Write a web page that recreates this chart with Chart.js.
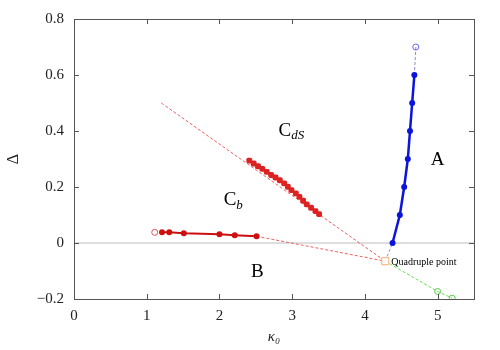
<!DOCTYPE html>
<html>
<head>
<meta charset="utf-8">
<script src="https://cdn.jsdelivr.net/npm/chart.js@4.4.0/dist/chart.umd.min.js"></script>
<style>
  html, body { margin: 0; padding: 0; background: #fff; }
  #wrap { width: 500px; height: 350px; }
</style>
</head>
<body>
<div id="wrap"><canvas id="grafico"></canvas></div>
<script>
// --- Dados ---
const xTicks = [0, 1, 2, 3, 4, 5];
const yTicks = [-0.2, 0, 0.2, 0.4, 0.6, 0.8];

// fase A (azul)
const azulX = [4.38, 4.48, 4.54, 4.59, 4.62, 4.65, 4.68];
const azulY = [0, 0.1, 0.2, 0.3, 0.4, 0.5, 0.6];
const azulExtX = [4.68, 4.70];
const azulExtY = [0.6, 0.70];

// C_b (vermelho)
const vermX = [1.21, 1.31, 1.51, 2.0, 2.21, 2.51];
const vermY = [0.038, 0.038, 0.035, 0.031, 0.028, 0.024];
const vermAbertoX = [1.11];
const vermAbertoY = [0.038];

// C_dS (pontos vermelhos grossos)
const dsX = [2.41, 2.47, 2.53, 2.59, 2.65, 2.71, 2.77, 2.83, 2.89, 2.94, 2.99, 3.05, 3.10, 3.15, 3.20, 3.26, 3.32, 3.37];
const dsY = [0.294, 0.284, 0.274, 0.265, 0.254, 0.243, 0.234, 0.224, 0.213, 0.201, 0.189, 0.177, 0.165, 0.151, 0.138, 0.126, 0.114, 0.103];

// ponto quádruplo
const quadX = [4.28];
const quadY = [-0.065];

// linhas tracejadas
const diagX = [1.2, 4.28];
const diagY = [0.5, -0.065];
const cbExtX = [2.51, 4.28];
const cbExtY = [0.024, -0.065];
const verdeX = [4.28, 5.0, 5.2];
const verdeY = [-0.065, -0.173, -0.197];
const azulBaixoX = [4.28, 4.38];
const azulBaixoY = [-0.065, 0];

const zeroX = [0, 5.5];
const zeroY = [0, 0];

const rotulos = [
    { txt: 'C', sub: 'dS', x: 2.99, y: 0.40 },
    { txt: 'C', sub: 'b', x: 2.19, y: 0.153 },
    { txt: 'A', sub: '', x: 5.0, y: 0.295 },
    { txt: 'B', sub: '', x: 2.52, y: -0.103 }
];

function pares(xs, ys) {
    return xs.map((x, i) => ({ x: x, y: ys[i] }));
}

const serif = '"Liberation Serif", "DejaVu Serif", serif';

// --- Plugin: moldura, ticks para dentro, rótulos ---
const molduraPlugin = {
    id: 'moldura',
    afterDraw(chart) {
        const ctx = chart.ctx;
        const a = chart.chartArea;
        const sx = chart.scales.x, sy = chart.scales.y;
        ctx.save();
        ctx.strokeStyle = '#555';
        ctx.lineWidth = 1;
        ctx.strokeRect(a.left + 0.5, a.top + 0.5, a.right - a.left, a.bottom - a.top);
        ctx.beginPath();
        xTicks.forEach(v => {
            const p = Math.round(sx.getPixelForValue(v)) + 0.5;
            ctx.moveTo(p, a.bottom); ctx.lineTo(p, a.bottom - 5);
            ctx.moveTo(p, a.top); ctx.lineTo(p, a.top + 5);
        });
        yTicks.forEach(v => {
            const p = Math.round(sy.getPixelForValue(v)) + 0.5;
            ctx.moveTo(a.left, p); ctx.lineTo(a.left + 5, p);
            ctx.moveTo(a.right, p); ctx.lineTo(a.right - 5, p);
        });
        ctx.stroke();

        // rótulos das fases
        ctx.fillStyle = '#000';
        ctx.textBaseline = 'middle';
        rotulos.forEach(r => {
            const px = sx.getPixelForValue(r.x);
            const py = sy.getPixelForValue(r.y);
            ctx.font = '19px ' + serif;
            const w1 = ctx.measureText(r.txt).width;
            ctx.font = 'italic 13px ' + serif;
            const w2 = r.sub ? ctx.measureText(r.sub).width : 0;
            const x0 = px - (w1 + w2) / 2;
            ctx.font = '19px ' + serif;
            ctx.textAlign = 'left';
            ctx.fillText(r.txt, x0, py);
            if (r.sub) {
                ctx.font = 'italic 13px ' + serif;
                ctx.fillText(r.sub, x0 + w1, py + 5);
            }
        });
        ctx.font = '10px ' + serif;
        ctx.textAlign = 'left';
        ctx.fillText('Quadruple point', sx.getPixelForValue(quadX[0]) + 6, sy.getPixelForValue(quadY[0]) + 1);
        ctx.restore();
    }
};

const tracejada = (cor, xs, ys) => ({
    data: pares(xs, ys),
    borderColor: cor,
    borderWidth: 1,
    borderDash: [3, 2],
    pointRadius: 0,
    showLine: true,
    order: 5
});

new Chart(document.getElementById('grafico'), {
    type: 'scatter',
    data: {
        datasets: [
            {
                data: pares(zeroX, zeroY),
                borderColor: '#bdbdbd', borderWidth: 1,
                pointRadius: 0, showLine: true, order: 10
            },
            tracejada('rgba(230,70,70,0.85)', diagX, diagY),
            tracejada('rgba(230,70,70,0.85)', cbExtX, cbExtY),
            tracejada('rgba(130,130,240,0.9)', azulBaixoX, azulBaixoY),
            {
                data: pares(verdeX, verdeY),
                borderColor: '#66dd55', borderWidth: 1, borderDash: [3, 2],
                pointRadius: [0, 3, 3], pointStyle: 'circle',
                pointBackgroundColor: 'rgba(0,0,0,0)', pointBorderColor: '#55cc44',
                pointBorderWidth: 1, showLine: true, order: 4
            },
            {
                data: pares(azulExtX, azulExtY),
                borderColor: '#8888dd', borderWidth: 1, borderDash: [3, 2],
                pointRadius: [0, 3], pointBackgroundColor: 'rgba(0,0,0,0)',
                pointBorderColor: '#6666ee', pointBorderWidth: 1, showLine: true, order: 4
            },
            {
                data: pares(azulX, azulY),
                borderColor: '#0a14dc', borderWidth: 2.5,
                pointRadius: 3, pointBackgroundColor: '#0a14dc', pointBorderWidth: 0,
                showLine: true, order: 1
            },
            {
                data: pares(vermX, vermY),
                borderColor: '#cc1010', borderWidth: 2,
                pointRadius: 3, pointBackgroundColor: '#cc1010', pointBorderWidth: 0,
                showLine: true, order: 1
            },
            {
                data: pares(vermAbertoX, vermAbertoY),
                pointRadius: 3, pointBackgroundColor: 'rgba(0,0,0,0)',
                pointBorderColor: '#e05050', pointBorderWidth: 1, showLine: false, order: 2
            },
            {
                data: pares(dsX, dsY),
                pointStyle: 'rectRounded', pointRadius: 3.4,
                pointBackgroundColor: '#dd2222', pointBorderWidth: 0,
                showLine: false, order: 1
            },
            {
                data: pares(quadX, quadY),
                pointStyle: 'rect', pointRadius: 5,
                pointBackgroundColor: 'rgba(255,255,255,0.9)', pointBorderColor: '#f5b070',
                pointBorderWidth: 1, showLine: false, order: 0
            }
        ]
    },
    plugins: [molduraPlugin],
    options: {
        responsive: true,
        maintainAspectRatio: false,
        animation: false,
        layout: { padding: { top: 18, right: 26, left: 0, bottom: 0 } },
        plugins: { legend: { display: false }, tooltip: { enabled: false } },
        scales: {
            x: {
                type: 'linear', min: 0, max: 5.5,
                afterFit: s => { s.height = 51; },
                afterBuildTicks: s => { s.ticks = xTicks.map(v => ({ value: v })); },
                grid: { display: false, drawTicks: false },
                border: { display: false },
                ticks: { color: '#222', padding: 8, font: { family: serif, size: 15 } },
                title: { display: true, text: 'κ₀', color: '#222', padding: { top: 2 }, font: { family: serif, size: 15, style: 'italic' } }
            },
            y: {
                type: 'linear', min: -0.2, max: 0.8,
                afterFit: s => { s.width = 74; },
                afterBuildTicks: s => { s.ticks = yTicks.map(v => ({ value: v })); },
                grid: { display: false, drawTicks: false },
                border: { display: false },
                ticks: {
                    color: '#222', padding: 10, font: { family: serif, size: 15 },
                    callback: v => (v < 0 ? '\u2212' + Math.abs(v) : String(Math.round(v * 10) / 10))
                },
                title: { display: true, text: 'Δ', color: '#222', padding: { bottom: 14 }, font: { family: serif, size: 16 } }
            }
        }
    }
});
</script>
</body>
</html>
